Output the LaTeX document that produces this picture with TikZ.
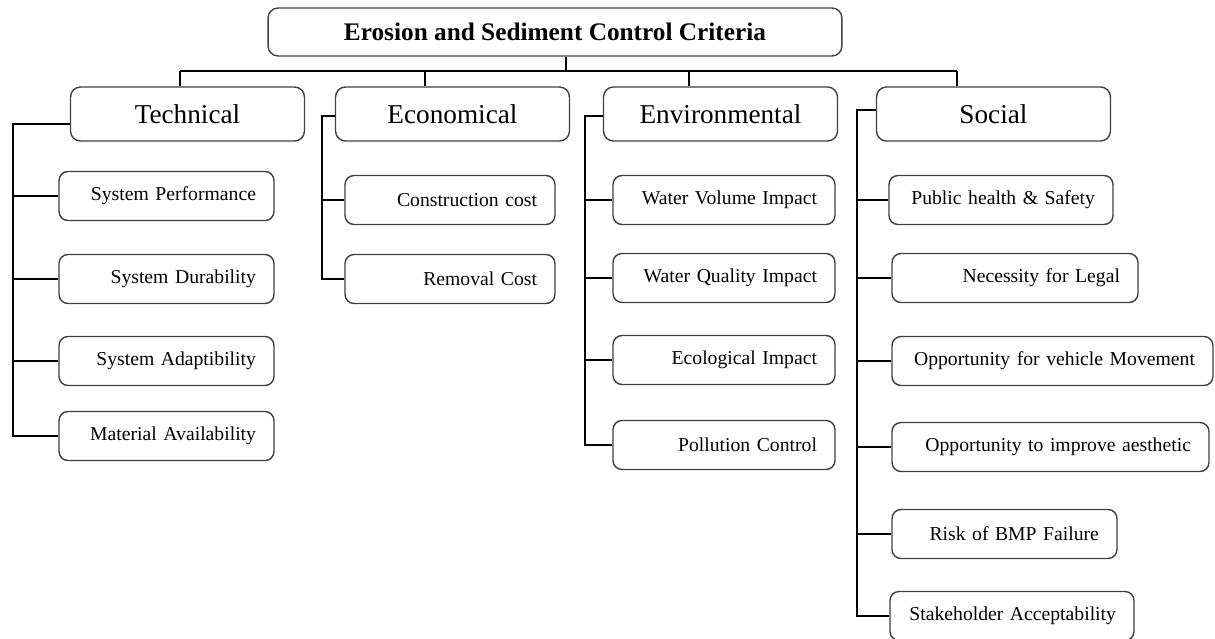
\documentclass[tikz,border=0pt]{standalone}
\usepackage{fontspec}
\setmainfont{Liberation Serif}
\usetikzlibrary{calc,positioning}

\begin{document}
\begin{tikzpicture}[x=0.02cm,y=-0.02cm,line width=0.8pt]

\tikzset{rootbox/.style={draw=black!75,rounded corners=2mm,minimum width=11.48cm,minimum height=0.96cm,font=\fontsize{14.4}{16}\selectfont\bfseries},
catbox/.style={draw=black!75,rounded corners=2mm,minimum width=4.68cm,minimum height=1.08cm,font=\fontsize{15.5}{18}\selectfont},
subbox/.style={draw=black!75,rounded corners=1.8mm,text width=#1,align=right,inner xsep=0.36cm,minimum height=0.98cm,font=\fontsize{11.2}{13}\selectfont}}

\useasboundingbox (0,0) rectangle (1215,639);

% Criteria and main groups
\node (root) [rootbox] at (555,32) {Erosion and Sediment Control Criteria};
\node (tech) [catbox] at (187.5,114) {Technical};
\node (econ) [catbox] at (452.5,114) {Economical};
\node (env) [catbox] at (720.5,114) {Environmental};
\node (soc) [catbox] at (993.5,114) {Social};

% Technical sub-criteria
\node (t1) [subbox=3.58cm] at (166.5,196) {System Performance};
\node (t2) [subbox=3.58cm] at (166.5,279) {System Durability};
\node (t3) [subbox=3.58cm] at (166.5,361) {System Adaptibility};
\node (t4) [subbox=3.58cm] at (166.5,436) {Material Availability};

% Economical sub-criteria
\node (e1) [subbox=3.48cm] at (450,200) {Construction cost};
\node (e2) [subbox=3.48cm] at (450,279) {Removal Cost};

% Environmental sub-criteria
\node (v1) [subbox=3.72cm] at (724,200) {Water Volume Impact};
\node (v2) [subbox=3.72cm] at (724,278) {Water Quality Impact};
\node (v3) [subbox=3.72cm] at (724,360) {Ecological Impact};
\node (v4) [subbox=3.72cm] at (724,445) {Pollution Control};

% Social sub-criteria
\node (s1) [subbox=3.76cm] at (1001,200) {Public health \& Safety};
\node (s2) [subbox=4.20cm] at (1015,278) {Necessity for Legal};
\node (s3) [subbox=5.70cm] at (1052.5,361) {Opportunity for vehicle Movement};
\node (s4) [subbox=5.62cm] at (1050.5,447) {Opportunity to improve aesthetic};
\node (s5) [subbox=3.78cm] at (1004.5,534) {Risk of BMP Failure};
\node (s6) [subbox=4.16cm] at (1012,616) {Stakeholder Acceptability};

%% Edges from the criteria box
\coordinate (rootout) at (566,71);
\foreach \u/\x in {tech/180, econ/425, env/689, soc/957}
	\coordinate (\u-in) at (\x,71);
\draw (rootout |- root.south) -- (rootout);
\draw (tech-in) -- (soc-in);
\foreach \u in {tech, econ, env, soc}
	\draw (\u-in) -- (\u-in |- \u.north);

%% Edges to sub-criteria
\coordinate (tech-tr) at (13,124);
\coordinate (econ-tr) at (322,116);
\coordinate (env-tr) at (585,116);
\coordinate (soc-tr) at (857,110);
\foreach \u/\last in {tech/t4, econ/e2, env/v4, soc/s6}
	\draw (\u.west |- \u-tr) -- (\u-tr) |- (\last.west);
\foreach \s/\u in {
	t1/tech, t2/tech, t3/tech, e1/econ,
	v1/env, v2/env, v3/env,
	s1/soc, s2/soc, s3/soc, s4/soc, s5/soc%
}
	\draw (\s.west) -- (\s.west -| \u-tr);

\end{tikzpicture}
\end{document}
